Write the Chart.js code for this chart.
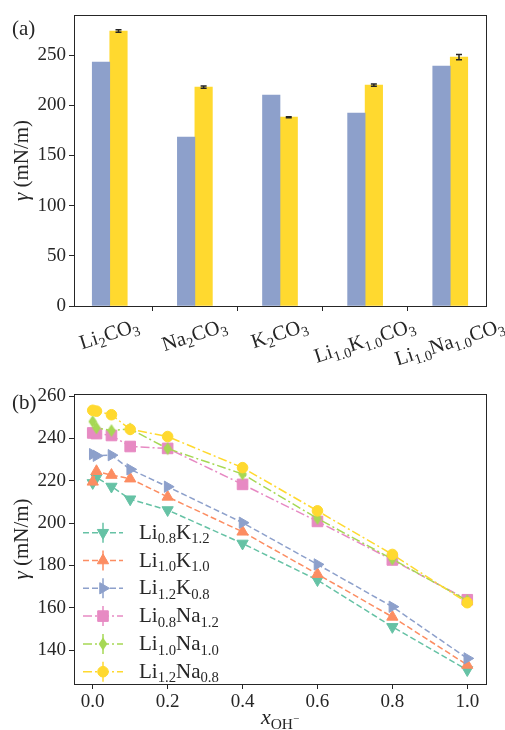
<!DOCTYPE html>
<html><head><meta charset="utf-8">
<script src="https://cdn.jsdelivr.net/npm/chart.js@4.4.0/dist/chart.umd.min.js"></script>
<style>
html,body{margin:0;padding:0;background:#fff;width:505px;height:730px;overflow:hidden}
#wrap{position:relative;width:505px;height:730px}
canvas{position:absolute;left:0}
#c1{top:0}#c2{top:365px}
</style></head><body>
<div id="wrap"><canvas id="c1" width="505" height="365"></canvas><canvas id="c2" width="505" height="365"></canvas></div>
<script>
// ---------- data ----------
const categories = ['Li_{2}CO_{3}','Na_{2}CO_{3}','K_{2}CO_{3}','Li_{1.0}K_{1.0}CO_{3}','Li_{1.0}Na_{1.0}CO_{3}'];
const barSeriesA = [243, 168.3, 210.2, 192.2, 239];
const barSeriesB = [274, 218.1, 188.2, 220.1, 248];
const barErrB = [1.2, 1.2, 0.5, 1.2, 2.6];

const xFrac = [0, 0.01, 0.05, 0.1, 0.2, 0.4, 0.6, 0.8, 1.0];
const seriesNames = ['Li_{0.8}K_{1.2}','Li_{1.0}K_{1.0}','Li_{1.2}K_{0.8}','Li_{0.8}Na_{1.2}','Li_{1.0}Na_{1.0}','Li_{1.2}Na_{0.8}'];
const liK_08_12  = [219, 221.5, 217.3, 211.3, 206.2, 190.4, 173.1, 151.0, 130.6];
const liK_10_10  = [219.5, 224.5, 222.7, 221.0, 212.4, 195.9, 175.9, 155.7, 133.0];
const liK_12_08  = [232.6, 231.8, 232.1, 225.4, 217.2, 200.2, 180.5, 160.5, 136.1];
const liNa_08_12 = [242.6, 242.3, 241.4, 236.2, 235.3, 218.3, 200.8, 182.6, 163.8];
const liNa_10_10 = [248.0, 245.0, 243.7, 244.5, 235.2, 223.2, 202.2, 183.0, 163.4];
const liNa_12_08 = [253.3, 252.9, 251.2, 244.3, 240.9, 226.2, 205.8, 185.2, 162.4];
const seriesValues = [liK_08_12, liK_10_10, liK_12_08, liNa_08_12, liNa_10_10, liNa_12_08];

// ---------- styles ----------
const FONT = '"Liberation Serif", "DejaVu Serif", serif';
const INK = '#262626';
const TICK = 19;
const barColors = ['#8da0cb', '#ffd92f'];
const seriesColors = ['#66c2a5','#fc8d62','#8da0cb','#e78ac3','#a6d854','#ffd92f'];
const DASH = [6,3], DASHDOT = [9,3,2,3];
const seriesDash = [DASH, DASH, DASH, DASHDOT, DASHDOT, DASHDOT];

function thinDiamond(color){
  const c = document.createElement('canvas'); c.width = 10; c.height = 14;
  const g = c.getContext('2d'); g.fillStyle = color; g.beginPath();
  g.moveTo(5,0.5); g.lineTo(9.3,7); g.lineTo(5,13.5); g.lineTo(0.7,7); g.closePath(); g.fill();
  return c;
}
const seriesMarkers = [
  {style:'triangle', rotation:180, radius:6.5},
  {style:'triangle', rotation:0, radius:6.5},
  {style:'triangle', rotation:90, radius:6.5},
  {style:'rect', rotation:0, radius:7.5},
  {style:thinDiamond('#a6d854'), rotation:0, radius:6},
  {style:'circle', rotation:0, radius:5.3}
];

// ---------- rich text helpers ----------
function parseRich(s){
  const parts=[]; const re=/_\{([^}]*)\}|\^\{([^}]*)\}|\*\{([^}]*)\}|([^_^*]+)/g; let m;
  while((m=re.exec(s))){
    if(m[1]!==undefined) parts.push({t:m[1],k:'sub'});
    else if(m[2]!==undefined) parts.push({t:m[2],k:'subsup'});
    else if(m[3]!==undefined) parts.push({t:m[3],k:'it'});
    else parts.push({t:m[4],k:'n'});
  }
  return parts;
}
function partFont(p,size){
  if(p.k==='sub') return {f:(size*0.7)+'px '+FONT, dy:size*0.22};
  if(p.k==='subsup') return {f:(size*0.5)+'px '+FONT, dy:-size*0.08};
  if(p.k==='it') return {f:'italic '+size+'px '+FONT, dy:0};
  return {f:size+'px '+FONT, dy:0};
}
function richWidth(ctx, parts, size){
  let w=0; for(const p of parts){ ctx.font=partFont(p,size).f; w+=ctx.measureText(p.t).width; } return w;
}
function drawRich(ctx, str, x, y, size, align){
  const parts = parseRich(str);
  const w = richWidth(ctx, parts, size);
  let cx = align==='center' ? x-w/2 : (align==='right' ? x-w : x);
  ctx.textAlign='left'; ctx.textBaseline='alphabetic'; ctx.fillStyle=INK;
  for(const p of parts){ const pf=partFont(p,size); ctx.font=pf.f; ctx.fillText(p.t, cx, y+pf.dy); cx+=ctx.measureText(p.t).width; }
  return w;
}
function drawFrame(chart){
  const a = chart.chartArea, ctx = chart.ctx;
  ctx.save(); ctx.strokeStyle=INK; ctx.lineWidth=1;
  ctx.strokeRect(Math.round(a.left)+0.5, Math.round(a.top)+0.5, Math.round(a.right-a.left), Math.round(a.bottom-a.top));
  ctx.restore();
}
function drawYTitle(chart){
  const a = chart.chartArea, ctx = chart.ctx, size=21;
  ctx.save(); ctx.translate(23, (a.top+a.bottom)/2); ctx.rotate(-Math.PI/2);
  drawRich(ctx, '*{γ} (mN/m)', 0, size*0.25, size, 'center');
  ctx.restore();
}
function drawMarker(ctx, mk, x, y, color){
  ctx.save(); ctx.fillStyle=color; ctx.strokeStyle=color; ctx.lineWidth=1;
  if(typeof mk.style==='object'){ ctx.drawImage(mk.style, x-mk.style.width/2, y-mk.style.height/2); ctx.restore(); return; }
  ctx.beginPath();
  if(mk.style==='circle'){ ctx.arc(x,y,mk.radius,0,Math.PI*2); }
  else if(mk.style==='rect'){ const h=mk.radius*Math.SQRT1_2; ctx.rect(x-h,y-h,2*h,2*h); }
  else { let r=mk.rotation*Math.PI/180; const R=mk.radius;
    for(let i=0;i<3;i++){ const px=x+Math.sin(r)*R, py=y-Math.cos(r)*R; if(i===0) ctx.moveTo(px,py); else ctx.lineTo(px,py); r+=2*Math.PI/3; }
    ctx.closePath(); }
  ctx.fill(); ctx.stroke(); ctx.restore();
}

// ---------- chart (a) ----------
const topPlugin = {
  id:'topDecor',
  afterDatasetsDraw(chart){
    const ctx=chart.ctx, ys=chart.scales.y, meta=chart.getDatasetMeta(1);
    ctx.save(); ctx.strokeStyle=INK; ctx.lineWidth=1.5;
    meta.data.forEach((bar,i)=>{
      const x=bar.x, y1=ys.getPixelForValue(barSeriesB[i]+barErrB[i]), y2=ys.getPixelForValue(barSeriesB[i]-barErrB[i]);
      ctx.beginPath(); ctx.moveTo(x,y1); ctx.lineTo(x,y2);
      ctx.moveTo(x-3,y1); ctx.lineTo(x+3,y1); ctx.moveTo(x-3,y2); ctx.lineTo(x+3,y2); ctx.stroke();
    });
    ctx.restore();
  },
  afterDraw(chart){
    const ctx=chart.ctx, xs=chart.scales.x, a=chart.chartArea;
    drawFrame(chart);
    const size=20.5, th=18*Math.PI/180;
    categories.forEach((c,i)=>{
      const px=xs.getPixelForValue(i);
      const W=richWidth(ctx, parseRich(c), size), H=size*1.2;
      const bh=W*Math.sin(th)+H*Math.cos(th);
      const top=a.bottom+9;
      ctx.save(); ctx.translate(px, top+bh/2); ctx.rotate(-th);
      drawRich(ctx, c, 0, size*0.2, size, 'center');
      ctx.restore();
    });
    drawYTitle(chart);
    ctx.save(); ctx.fillStyle=INK; ctx.font='21px '+FONT; ctx.textAlign='left'; ctx.textBaseline='alphabetic';
    ctx.fillText('(a)', 12, 35); ctx.restore();
  }
};
new Chart(document.getElementById('c1'), {
  type:'bar',
  data:{ datasets:[
    {data:barSeriesA.map((v,i)=>({x:i,y:v})), backgroundColor:barColors[0], barThickness:17.5},
    {data:barSeriesB.map((v,i)=>({x:i,y:v})), backgroundColor:barColors[1], barThickness:17.5}
  ]},
  options:{
    responsive:false, animation:false, events:[],
    layout:{padding:{left:0,right:19,top:15,bottom:0}},
    plugins:{legend:{display:false}, tooltip:{enabled:false}},
    scales:{
      x:{type:'linear', min:-0.42, max:4.42, offset:false,
         ticks:{stepSize:1, includeBounds:false, callback:()=>'' , maxRotation:0},
         grid:{drawOnChartArea:false, drawTicks:true, tickLength:5, color:INK, lineWidth:1},
         border:{display:true, color:INK, width:1},
         afterFit(s){ s.height=59; }},
      y:{min:0, max:290,
         ticks:{stepSize:50, includeBounds:false, color:INK, padding:3, font:{family:FONT, size:TICK}},
         grid:{drawOnChartArea:false, drawTicks:true, tickLength:5, color:INK, lineWidth:1},
         border:{display:true, color:INK, width:1},
         afterFit(s){ s.width=74; }}
    }
  },
  plugins:[topPlugin]
});

// ---------- chart (b) ----------
const botPlugin = {
  id:'botDecor',
  afterDraw(chart){
    const ctx=chart.ctx, a=chart.chartArea;
    drawFrame(chart);
    const rows0=167.7, step=27.8;
    seriesNames.forEach((n,i)=>{
      const y=rows0+i*step, col=seriesColors[i];
      ctx.save(); ctx.strokeStyle=col; ctx.lineWidth=1.5; ctx.setLineDash(seriesDash[i]);
      ctx.beginPath(); ctx.moveTo(83,y); ctx.lineTo(123,y); ctx.stroke();
      ctx.setLineDash([]); ctx.beginPath(); ctx.moveTo(103,y-10); ctx.lineTo(103,y+10); ctx.stroke();
      ctx.restore();
      drawMarker(ctx, seriesMarkers[i], 103, y, col);
      drawRich(ctx, n, 139, y+6, 21, 'left');
    });
    drawYTitle(chart);
    drawRich(ctx, '*{x}_{OH}^{−}', (a.left+a.right)/2, 359, 22, 'center');
    ctx.save(); ctx.fillStyle=INK; ctx.font='21px '+FONT; ctx.textAlign='left'; ctx.textBaseline='alphabetic';
    ctx.fillText('(b)', 12, 44); ctx.restore();
  }
};
new Chart(document.getElementById('c2'), {
  type:'line',
  data:{ datasets: seriesValues.map((vals,i)=>({
    data: vals.map((v,j)=>({x:xFrac[j], y:v})),
    borderColor:seriesColors[i], backgroundColor:seriesColors[i], borderWidth:1.5,
    borderDash:seriesDash[i], fill:false, tension:0,
    pointStyle:seriesMarkers[i].style, pointRotation:seriesMarkers[i].rotation,
    pointRadius:seriesMarkers[i].radius, pointBorderWidth:1,
    order: seriesValues.length - i
  }))},
  options:{
    responsive:false, animation:false, events:[],
    layout:{padding:{left:0,right:19,top:29,bottom:0}},
    plugins:{legend:{display:false}, tooltip:{enabled:false}},
    scales:{
      x:{type:'linear', min:-0.05, max:1.05,
         ticks:{stepSize:0.2, includeBounds:false, color:INK, padding:2, maxRotation:0, autoSkip:false,
                font:{family:FONT, size:TICK}, callback:(v)=>Number(v).toFixed(1)},
         grid:{drawOnChartArea:false, drawTicks:true, tickLength:5, color:INK, lineWidth:1},
         border:{display:true, color:INK, width:1},
         afterFit(s){ s.height=46; }},
      y:{min:124, max:261,
         ticks:{stepSize:20, includeBounds:false, color:INK, padding:3, font:{family:FONT, size:TICK}},
         grid:{drawOnChartArea:false, drawTicks:true, tickLength:5, color:INK, lineWidth:1},
         border:{display:true, color:INK, width:1},
         afterFit(s){ s.width=74; }}
    }
  },
  plugins:[botPlugin]
});
</script>
</body></html>
